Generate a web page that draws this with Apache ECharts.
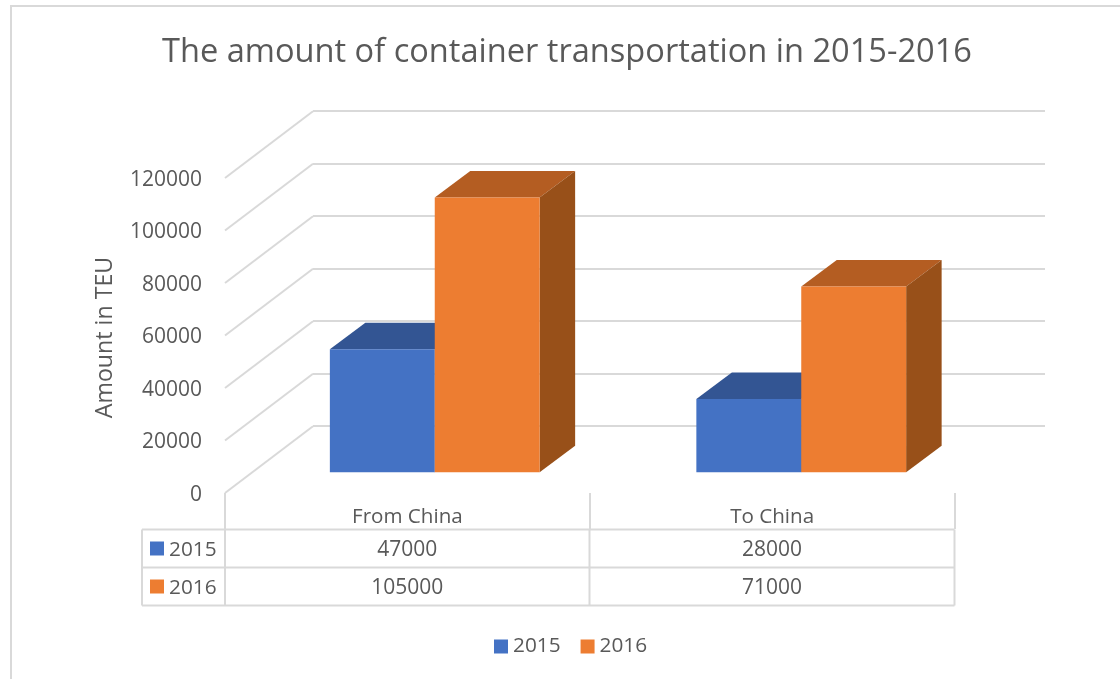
<!DOCTYPE html>
<html>
<head>
<meta charset="utf-8">
<style>html,body{margin:0;padding:0;background:#fff}#c{width:1120px;height:679px}</style>
<script src="https://cdn.jsdelivr.net/npm/echarts@6/dist/echarts.min.js"></script>
</head>
<body>
<div id="c"></div>
<script>
var categories = ['From China', 'To China'];
var values2015 = [47000, 28000];
var values2016 = [105000, 71000];
var seriesNames = ['2015', '2016'];
var yTicks = [0, 20000, 40000, 60000, 80000, 100000, 120000];

var colors = { 2015: ['#4472c4', '#335593', '#2a4a82'], 2016: ['#ed7d31', '#b45d22', '#985019'] };
var FONT = '"Open Sans", "Noto Sans", sans-serif';
var TEXT = '#595959', LINE = '#d9d9d9';
var DX = 35.5, DY = -26.5, WALLX = 88, WALLY = -66.7;

function barItem(idx, name) {
  return function (params, api) {
    var band = api.size([1, 0])[0];
    var w = band * 0.2862;
    var base = api.coord([api.value(0), 0]);
    var top = api.coord([api.value(0), api.value(1)]);
    var x0 = base[0] + (idx === 0 ? -w : 0), x1 = x0 + w;
    var y0 = base[1], y1 = top[1];
    var c = colors[name];
    return { type: 'group', children: [
      { type: 'polygon', shape: { points: [[x0, y1], [x1, y1], [x1 + DX, y1 + DY], [x0 + DX, y1 + DY]] }, style: { fill: c[1] } },
      { type: 'polygon', shape: { points: [[x1, y0], [x1, y1], [x1 + DX, y1 + DY], [x1 + DX, y0 + DY]] }, style: { fill: c[2] } },
      { type: 'rect', shape: { x: x0, y: y1, width: w, height: y0 - y1 }, style: { fill: c[0] } }
    ] };
  };
}
function barData(vals) { return vals.map(function (v, i) { return [i, v]; }); }

var tableX = [142, 225, 589.5, 954.5];
var tableY = [529.5, 567.5, 605.5];
var graphics = [
  { type: 'polyline', shape: { points: [[1120, 6], [11, 6], [11, 679]] }, style: { stroke: LINE, lineWidth: 2, fill: null }, silent: true }
];
tableY.forEach(function (y) {
  graphics.push({ type: 'line', shape: { x1: tableX[0], y1: y, x2: tableX[3], y2: y }, style: { stroke: LINE, lineWidth: 2 }, silent: true });
});
tableX.forEach(function (x) {
  graphics.push({ type: 'line', shape: { x1: x, y1: tableY[0], x2: x, y2: tableY[2] }, style: { stroke: LINE, lineWidth: 2 }, silent: true });
});
[values2015, values2016].forEach(function (vals, r) {
  var cy = (tableY[r] + tableY[r + 1]) / 2;
  var name = seriesNames[r];
  graphics.push({ type: 'rect', shape: { x: 150, y: cy - 7, width: 14, height: 14 }, style: { fill: colors[name][0] }, silent: true });
  graphics.push({ type: 'text', x: 169, y: cy + 1.5, style: { text: name, font: '20.8px ' + FONT, fill: TEXT, textAlign: 'left', textVerticalAlign: 'middle' }, silent: true });
  vals.forEach(function (v, i) {
    graphics.push({ type: 'text', x: (tableX[i + 1] + tableX[i + 2]) / 2, y: cy + 1.5, style: { text: String(v), font: '21px ' + FONT, fill: TEXT, textAlign: 'center', textVerticalAlign: 'middle' }, silent: true });
  });
});

var chart = echarts.init(document.getElementById('c'), null, { renderer: 'canvas' });
chart.setOption({
  animation: false,
  backgroundColor: '#fff',
  title: { text: 'The amount of container transportation in 2015-2016', left: 562, top: 31, textAlign: 'center',
    textStyle: { fontFamily: FONT, fontSize: 32.6, fontWeight: 'normal', color: TEXT } },
  legend: { data: seriesNames, left: 489, top: 631, icon: 'rect', itemWidth: 14, itemHeight: 14, itemGap: 20,
    textStyle: { fontFamily: FONT, fontSize: 20.8, color: TEXT } },
  grid: [
    { left: 251.5, width: 733, top: 158.3, height: 314 },
    { left: 313, width: 732, top: 111, height: 315 },
    { left: 225, width: 729.5, top: 178, height: 315 },
    { left: 225, width: 729.5, top: 180, height: 315 }
  ],
  xAxis: [
    { gridIndex: 0, type: 'category', data: categories, show: false },
    { gridIndex: 1, type: 'category', data: categories, show: false },
    { gridIndex: 2, type: 'category', data: categories,
      axisLine: { lineStyle: { color: LINE, width: 0 } },
      axisTick: { show: true, length: 36, lineStyle: { color: LINE, width: 2 } },
      axisLabel: { margin: 14, fontFamily: FONT, fontSize: 20.6, color: TEXT } },
    { gridIndex: 3, type: 'category', data: categories, show: false }
  ],
  yAxis: [
    { gridIndex: 0, type: 'value', min: 0, max: 120000, interval: 20000, show: false },
    { gridIndex: 1, type: 'value', min: 0, max: 120000, interval: 20000, axisLine: { show: false }, axisTick: { show: false }, axisLabel: { show: false },
      splitLine: { show: true, lineStyle: { color: LINE, width: 2 } } },
    { gridIndex: 2, type: 'value', min: 0, max: 120000, interval: 20000, show: false },
    { gridIndex: 3, type: 'value', min: 0, max: 120000, interval: 20000, splitLine: { show: false }, axisLine: { show: false }, axisTick: { show: false },
      axisLabel: { margin: 23, fontFamily: FONT, fontSize: 21, color: TEXT, formatter: function (v) { return String(v); } },
      name: 'Amount in TEU', nameLocation: 'middle', nameGap: 108, nameRotate: 90,
      nameTextStyle: { fontFamily: FONT, fontSize: 23.2, color: TEXT } }
  ],
  series: [
    { type: 'custom', name: 'walls', xAxisIndex: 2, yAxisIndex: 2, silent: true, z: 1,
      data: yTicks.map(function (v) { return [0, v]; }),
      renderItem: function (params, api) {
        var p = api.coord([api.value(0), api.value(1)]);
        var x0 = params.coordSys.x;
        return { type: 'line', shape: { x1: x0, y1: p[1], x2: x0 + WALLX, y2: p[1] + WALLY }, style: { stroke: LINE, lineWidth: 2 } };
      } },
    { type: 'custom', name: seriesNames[0], xAxisIndex: 0, yAxisIndex: 0, z: 3, itemStyle: { color: colors[2015][0] },
      data: barData(values2015), renderItem: barItem(0, seriesNames[0]) },
    { type: 'custom', name: seriesNames[1], xAxisIndex: 0, yAxisIndex: 0, z: 3, itemStyle: { color: colors[2016][0] },
      data: barData(values2016), renderItem: barItem(1, seriesNames[1]) }
  ],
  graphic: graphics
});
</script>
</body>
</html>
